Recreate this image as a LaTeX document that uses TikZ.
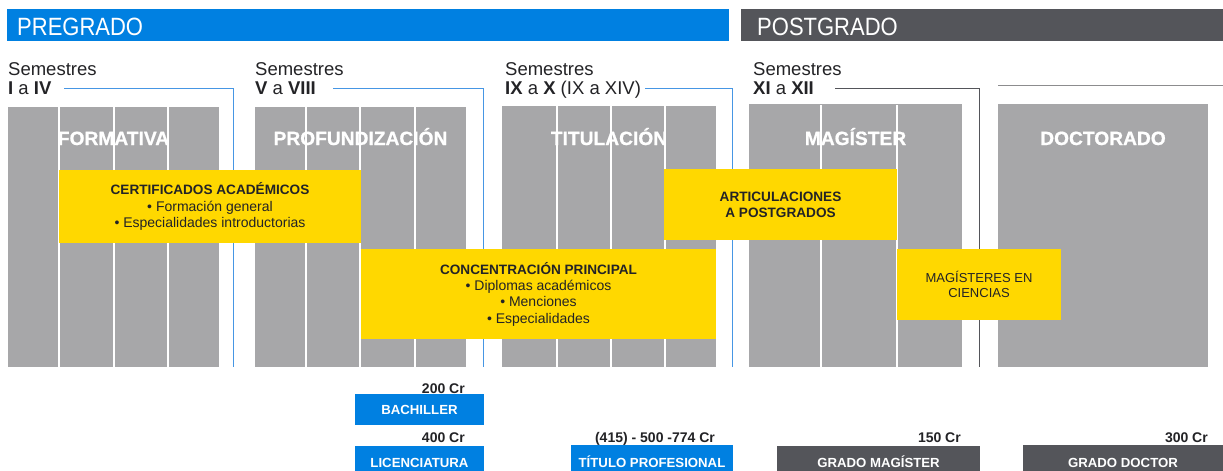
\documentclass[tikz,border=0pt]{standalone}
\usepackage{fontspec}
\setmainfont{Liberation Sans}
\newfontfamily\hdrfont{Liberation Sans}[FakeStretch=0.88]
\newfontfamily\heavyfont{Liberation Sans Bold}[FakeBold=0.8]
\definecolor{pgblue}{RGB}{0,128,225}
\definecolor{pgdark}{RGB}{84,85,90}
\definecolor{blockgray}{RGB}{167,167,169}
\definecolor{ylw}{RGB}{255,216,0}
\definecolor{lineblue}{RGB}{70,150,228}
\definecolor{linegray}{RGB}{140,140,142}
\definecolor{txt}{RGB}{35,35,38}
\tikzset{
  gblock/.style={fill=blockgray, draw=none, inner sep=0pt},
  sepline/.style={draw=white, line width=1.2pt},
  blabel/.style={anchor=base, text=white, inner sep=0pt, font=\fontsize{19.2}{20}\selectfont\heavyfont},
  ybox/.style={fill=ylw, draw=none, inner sep=0pt, align=center, text=txt, font=\fontsize{14}{16.3}\selectfont},
  ybold/.style={font=\fontsize{13.6}{16.3}\selectfont\bfseries},
  hdr/.style={anchor=base west, text=white, inner sep=0pt, font=\fontsize{25}{26}\selectfont\hdrfont},
  semlab/.style={anchor=base west, text=txt, inner sep=0pt, align=left, font=\fontsize{18.5}{19}\selectfont},
  bline/.style={draw=lineblue, line width=1pt},
  dline/.style={draw=pgdark, line width=1pt},
  lline/.style={draw=linegray, line width=1pt},
  cred/.style={anchor=base east, text=txt, inner sep=0pt, font=\fontsize{14}{15}\selectfont\bfseries},
  gbox/.style={draw=none, inner sep=0pt, text=white, font=\fontsize{13.2}{14}\selectfont\bfseries},
}
\newcommand{\yb}[1]{{\fontsize{13.6}{16.3}\selectfont\bfseries #1}}
\begin{document}
\begin{tikzpicture}[x=1pt,y=-1pt]
\useasboundingbox[fill=white] (0,0) rectangle (1223,471);

% header bars
\fill[pgblue] (7,9) rectangle (729,41);
\fill[pgdark] (741,9) rectangle (1223,41);
\node[hdr] (hpre) at (17,35) {PREGRADO};
\node[hdr] (hpost) at (757,35) {POSTGRADO};

% semester labels
\node[semlab] (s1a) at (8,75) {Semestres};
\node[semlab] (s1b) at (8,94) {\textbf{I} a \textbf{IV}};
\node[semlab] (s2a) at (255,75) {Semestres};
\node[semlab] (s2b) at (255,94) {\textbf{V} a \textbf{VIII}};
\node[semlab] (s3a) at (505,75) {Semestres};
\node[semlab] (s3b) at (505,94) {\textbf{IX} a \textbf{X} (IX a XIV)};
\node[semlab] (s4a) at (753,75) {Semestres};
\node[semlab] (s4b) at (753,94) {\textbf{XI} a \textbf{XII}};

% bracket lines
\coordinate (l1s) at (64,88);   \coordinate (l1e) at (233,367);
\coordinate (l2s) at (333,88);  \coordinate (l2e) at (483,367);
\coordinate (l3s) at (645,88);  \coordinate (l3e) at (732,367);
\coordinate (l4s) at (835,88);  \coordinate (l4e) at (979,367);
\coordinate (l5s) at (998,85);  \coordinate (l5e) at (1223,85);
\draw[bline] (l1s) -| (l1e);
\draw[bline] (l2s) -| (l2e);
\draw[bline] (l3s) -| (l3e);
\draw[dline] (l4s) -| (l4e);
\draw[lline] (l5s) -- (l5e);

% gray blocks
\node[gblock, minimum width=211, minimum height=260] (b1) at (113.5,237) {};
\node[gblock, minimum width=211, minimum height=260] (b2) at (360.5,237) {};
\node[gblock, minimum width=214, minimum height=261] (b3) at (609,236.5) {};
\node[gblock, minimum width=213, minimum height=263] (b4) at (855.5,235.5) {};
\node[gblock, minimum width=210, minimum height=263] (b5) at (1103,235.5) {};

% column separators
\foreach \xx in {59,114,168,306,360,415,557,611,665,821,897}{
  \draw[sepline] (\xx,105) -- (\xx,367);
}

% block labels
\node[blabel] (t1) at (113.5,145) {FORMATIVA};
\node[blabel] (t2) at (360.5,145) {PROFUNDIZACIÓN};
\node[blabel] (t3) at (609,145) {TITULACIÓN};
\node[blabel] (t4) at (855.5,145) {MAGÍSTER};
\node[blabel] (t5) at (1103,145) {DOCTORADO};

% yellow boxes
\node[ybox, minimum width=302, minimum height=73] (cert) at (210,206.5)
  {\yb{CERTIFICADOS ACADÉMICOS}\\• Formación general\\• Especialidades introductorias};
\node[ybox, minimum width=355, minimum height=90] (conc) at (538.5,294)
  {\yb{CONCENTRACIÓN PRINCIPAL}\\• Diplomas académicos\\• Menciones\\• Especialidades};
\node[ybox, minimum width=233, minimum height=71] (art) at (780.5,204.5)
  {\yb{ARTICULACIONES}\\\yb{A POSTGRADOS}};
\node[ybox, minimum width=164, minimum height=71, font=\fontsize{13}{15.5}\selectfont] (mag) at (979,284.5)
  {MAGÍSTERES EN\\CIENCIAS};

% bottom degree boxes
\node[cred] (c200) at (465,393) {200 Cr};
\node[gbox, fill=pgblue, minimum width=129, minimum height=31] (bach) at (419.5,409.5) {BACHILLER};
\node[cred] (c400) at (465,442) {400 Cr};
\fill[pgblue] (355,446) rectangle (484,471);
\node[gbox, anchor=base] (lic) at (419.5,467) {LICENCIATURA};
\node[cred, anchor=base] (c415) at (655,442) {(415) - 500 -774 Cr};
\fill[pgblue] (571,445) rectangle (733,471);
\node[gbox, anchor=base] (tit) at (652,467) {TÍTULO PROFESIONAL};
\node[cred] (c150) at (961,442) {150 Cr};
\fill[pgdark] (777,446) rectangle (980,471);
\node[gbox, anchor=base] (gmag) at (878.5,467) {GRADO MAGÍSTER};
\node[cred] (c300) at (1208,442) {300 Cr};
\fill[pgdark] (1023,445) rectangle (1223,471);
\node[gbox, anchor=base] (gdoc) at (1123,467) {GRADO DOCTOR};
\end{tikzpicture}
\end{document}
